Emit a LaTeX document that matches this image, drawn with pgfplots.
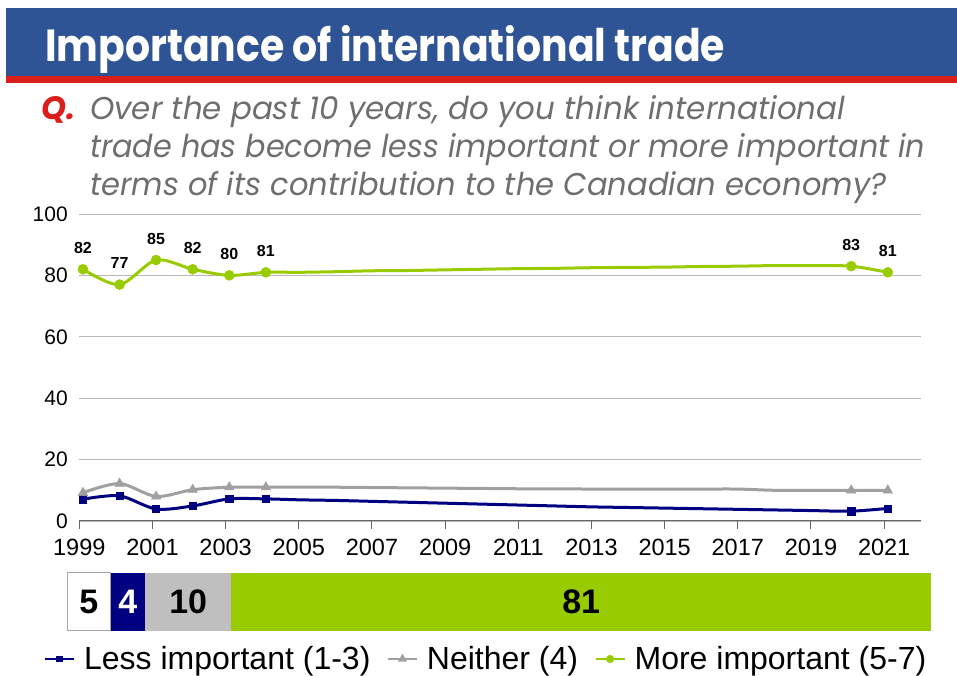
\documentclass[border=0pt]{standalone}
\usepackage{fontspec}
\setmainfont{Liberation Sans}
\newfontfamily\gothic{Poppins}
\usepackage{graphicx}
\usepackage{pgfplots}
\pgfplotsset{compat=1.18}
\definecolor{banner}{RGB}{47,84,150}
\definecolor{qred}{RGB}{218,30,28}
\definecolor{qgray}{RGB}{110,110,110}
\definecolor{navyc}{RGB}{0,0,128}
\definecolor{grayc}{RGB}{160,160,160}
\definecolor{greenc}{RGB}{153,204,0}
\definecolor{bargray}{RGB}{191,191,191}

\pgfplotstableread{
x y
1999.1 7.1
2000.1 8.2
2001.1 3.9
2002.1 4.9
2003.1 7.2
2004.1 7.2
2005 6.9
2006 6.7
2007 6.4
2008 6.1
2009 5.8
2010 5.5
2011 5.2
2012 4.9
2013 4.6
2014 4.4
2015 4.2
2016 4.0
2017 3.8
2018 3.6
2019 3.4
2020.1 3.2
2021.1 4.1
}\lessdata

\pgfplotstableread{
x y
1999.1 9.2
2000.1 12.2
2001.1 8.0
2002.1 10.2
2003.1 11
2004.1 11
2005 11.0
2006 11.0
2007 10.9
2008 10.8
2009 10.7
2010 10.6
2011 10.5
2012 10.5
2013 10.4
2014 10.4
2015 10.4
2016 10.4
2017 10.4
2018 10.0
2019 10.0
2020.1 10
2021.1 10
}\neitherdata

\pgfplotstableread{
x y
1999.1 82
2000.1 77
2001.1 85
2002.1 82
2003.1 80
2004.1 81
2005 81.0
2006 81.2
2007 81.5
2008 81.6
2009 81.8
2010 82.0
2011 82.2
2012 82.3
2013 82.5
2014 82.6
2015 82.7
2016 82.9
2017 83.0
2018 83.2
2019 83.2
2020.1 83
2021.1 81
}\moredata

\pgfplotstableread{
x y
1999.1 82
2000.1 77
2001.1 85
2002.1 82
2003.1 80
2004.1 81
2020.1 83
2021.1 81
}\morelabels

\begin{document}
\begin{tikzpicture}
\path[use as bounding box] (0,0) rectangle (957pt,676pt);
% banner
\fill[banner] (6pt,668pt) rectangle (957pt,600pt);
\fill[qred] (6pt,600pt) rectangle (957pt,593pt);
\node[anchor=base west, inner sep=0pt, text=white] at (45pt,614pt)
  {\resizebox{680pt}{36pt}{\gothic\fontsize{48}{52}\selectfont\bfseries Importance of international trade}};
% question
\node[anchor=base west, inner sep=0pt, text=qred] at (41pt,556.7pt)
  {\resizebox{34pt}{23pt}{\gothic\fontsize{31}{34}\selectfont\bfseries\itshape Q.}};
\node[anchor=base west, inner sep=0pt, text=qgray] at (90pt,556.7pt)
  {\resizebox{755pt}{24pt}{\gothic\fontsize{30}{34}\selectfont\itshape Over the past 10 years, do you think international}};
\node[anchor=base west, inner sep=0pt, text=qgray] at (90pt,518.7pt)
  {\resizebox{835pt}{24pt}{\gothic\fontsize{30}{34}\selectfont\itshape trade has become less important or more important in}};
\node[anchor=base west, inner sep=0pt, text=qgray] at (90pt,480.7pt)
  {\resizebox{796pt}{24pt}{\gothic\fontsize{30}{34}\selectfont\itshape terms of its contribution to the Canadian economy?}};

% main chart
\begin{axis}[
  at={(79.3pt,155pt)}, anchor=south west,
  scale only axis, width=841.4pt, height=307pt,
  xmin=1999, xmax=2022, ymin=0, ymax=100,
  clip=false,
  axis x line*=bottom, axis y line*=left,
  y axis line style={draw=none},
  x axis line style={-, draw=black!60, line width=1pt},
  xtick={1999,2001,...,2021}, ytick={0,20,...,100},
  tick align=outside, major tick length=8pt,
  xtick style={draw=black!60, line width=1pt},
  ytick style={draw=none},
  ymajorgrids, grid style={gray!55, line width=0.8pt},
  /pgf/number format/assume math mode=true,
  /pgf/number format/1000 sep={},
  xticklabel style={font=\fontsize{23.5}{26}\selectfont, yshift=-7pt},
  yticklabel style={font=\fontsize{21}{24}\selectfont},
  legend columns=3,
  legend cell align=left,
  legend style={at={(-0.042,-0.4495)}, anchor=west, draw=none, fill=none,
    inner sep=0pt, font=\fontsize{32}{36}\selectfont,
    nodes={inner sep=0pt},
    /tikz/every odd column/.append style={column sep=9pt},
    /tikz/every even column/.append style={column sep=16.5pt}},
  legend image code/.code={\draw[line width=2pt, mark indices={2}, mark options={scale=0.6}]
    plot coordinates {(0pt,0pt) (14.5pt,0pt) (29pt,0pt)};},
]
\addplot[color=navyc, line width=3pt, smooth, mark=square*, mark size=3.6pt,
  mark options={line width=0.5pt}, mark indices={1,2,3,4,5,6,22,23}] table[x=x,y=y] {\lessdata};
\addlegendentry{Less important (1-3)}
\addplot[color=grayc, line width=3pt, smooth, mark=triangle*, mark size=5.5pt,
  mark options={line width=0.5pt}, mark indices={1,2,3,4,5,6,22,23}] table[x=x,y=y] {\neitherdata};
\addlegendentry{Neither (4)}
\addplot[color=greenc, line width=3pt, smooth, mark=*, mark size=5pt,
  mark options={line width=0.5pt}, mark indices={1,2,3,4,5,6,22,23}] table[x=x,y=y] {\moredata};
\addlegendentry{More important (5-7)}
\addplot[draw=none, mark=none, forget plot, nodes near coords,
  every node near coord/.append style={anchor=center, yshift=21.5pt, text=black,
    font=\bfseries\fontsize{16}{18}\selectfont}] table[x=x,y=y] {\morelabels};
\end{axis}

% stacked bar
\begin{axis}[
  at={(67.3pt,45.3pt)}, anchor=south west,
  scale only axis, width=863.7pt, height=58pt,
  xmin=0, xmax=100, ymin=-0.5, ymax=0.5,
  hide axis, clip=false, xbar stacked, bar width=58pt,
]
\addplot[fill=white, draw=gray!70, line width=1pt] coordinates {(5,0)};
\addplot[fill=navyc, draw=none] coordinates {(4,0)};
\addplot[fill=bargray, draw=none] coordinates {(10,0)};
\addplot[fill=greenc, draw=none] coordinates {(81,0)};
\end{axis}
\begin{axis}[
  at={(67.3pt,45.3pt)}, anchor=south west,
  scale only axis, width=863.7pt, height=58pt,
  xmin=0, xmax=100, ymin=-0.5, ymax=0.5,
  hide axis, clip=false,
  nodes near coords, point meta=explicit symbolic,
  every node near coord/.append style={anchor=center, font=\bfseries\fontsize{34}{36}\selectfont},
]
\addplot[draw=none, mark=none, every node near coord/.append style={text=black}]
  coordinates {(2.5,0)[5] (14,0)[10] (59.5,0)[81]};
\addplot[draw=none, mark=none, every node near coord/.append style={text=white}]
  coordinates {(7,0)[4]};
\end{axis}
\end{tikzpicture}
\end{document}
